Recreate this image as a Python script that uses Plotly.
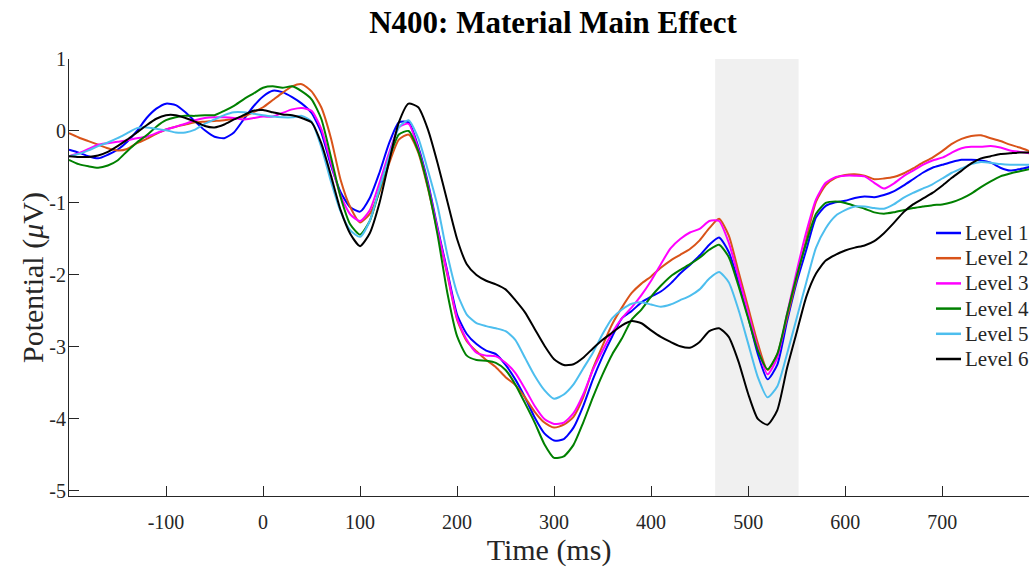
import plotly.graph_objects as go

time_ms = list(range(-200, 800, 10))

level1 = [-0.26, -0.30, -0.35, -0.38, -0.33, -0.26, -0.15, 0.00, 0.18, 0.31,
          0.38, 0.36, 0.26, 0.13, 0.01, -0.08, -0.10, -0.02, 0.16, 0.34,
          0.48, 0.56, 0.54, 0.47, 0.38, 0.25, -0.02, -0.48, -0.85, -1.06,
          -1.12, -0.93, -0.58, -0.17, 0.12, 0.12, -0.22, -0.72, -1.35, -1.95,
          -2.55, -2.82, -2.96, -3.05, -3.10, -3.25, -3.45, -3.70, -3.98, -4.20,
          -4.30, -4.28, -4.12, -3.82, -3.45, -3.13, -2.85, -2.60, -2.50, -2.38,
          -2.30, -2.23, -2.12, -1.98, -1.86, -1.73, -1.58, -1.48, -1.68, -2.10,
          -2.58, -3.10, -3.45, -3.25, -2.65, -2.10, -1.65, -1.20, -1.04, -0.99,
          -0.97, -0.93, -0.91, -0.92, -0.89, -0.84, -0.76, -0.67, -0.58, -0.51,
          -0.47, -0.43, -0.40, -0.40, -0.41, -0.44, -0.51, -0.55, -0.53, -0.50]

level2 = [-0.03, -0.09, -0.14, -0.19, -0.24, -0.27, -0.25, -0.17, -0.11, -0.04,
          0.02, 0.06, 0.09, 0.12, 0.13, 0.14, 0.15, 0.17, 0.20, 0.26,
          0.33, 0.43, 0.53, 0.62, 0.65, 0.55, 0.33, -0.10, -0.68, -1.06,
          -1.27, -1.15, -0.85, -0.45, -0.12, -0.05, -0.30, -0.80, -1.40, -2.00,
          -2.62, -2.92, -3.06, -3.18, -3.28, -3.42, -3.53, -3.70, -3.90, -4.05,
          -4.12, -4.08, -3.97, -3.70, -3.30, -2.98, -2.68, -2.45, -2.25, -2.12,
          -2.02, -1.90, -1.80, -1.72, -1.64, -1.52, -1.35, -1.22, -1.45, -1.95,
          -2.45, -2.95, -3.32, -3.10, -2.60, -2.05, -1.50, -0.98, -0.75, -0.65,
          -0.61, -0.60, -0.62, -0.67, -0.66, -0.64, -0.59, -0.52, -0.44, -0.37,
          -0.28, -0.18, -0.11, -0.07, -0.06, -0.10, -0.14, -0.19, -0.23, -0.28]

level3 = [-0.35, -0.31, -0.25, -0.19, -0.17, -0.15, -0.13, -0.10, -0.08, -0.03,
          0.02, 0.06, 0.10, 0.15, 0.18, 0.19, 0.19, 0.18, 0.16, 0.18,
          0.20, 0.20, 0.25, 0.30, 0.32, 0.28, 0.03, -0.44, -0.90, -1.16,
          -1.25, -1.10, -0.72, -0.30, 0.05, 0.10, -0.25, -0.75, -1.38, -1.98,
          -2.60, -2.90, -3.08, -3.12, -3.13, -3.22, -3.36, -3.58, -3.82, -4.00,
          -4.07, -4.05, -3.92, -3.66, -3.32, -3.05, -2.80, -2.60, -2.45, -2.28,
          -2.08, -1.85, -1.63, -1.50, -1.41, -1.36, -1.25, -1.25, -1.55, -2.02,
          -2.52, -3.02, -3.38, -3.15, -2.55, -1.95, -1.40, -0.95, -0.72, -0.64,
          -0.62, -0.62, -0.63, -0.72, -0.80, -0.73, -0.63, -0.55, -0.47, -0.41,
          -0.37, -0.30, -0.24, -0.22, -0.22, -0.21, -0.23, -0.27, -0.29, -0.31]

level4 = [-0.40, -0.46, -0.49, -0.51, -0.48, -0.41, -0.28, -0.16, -0.06, 0.06,
          0.15, 0.19, 0.21, 0.21, 0.22, 0.22, 0.28, 0.35, 0.44, 0.52,
          0.60, 0.62, 0.60, 0.62, 0.55, 0.44, 0.17, -0.36, -0.92, -1.30,
          -1.44, -1.25, -0.82, -0.38, -0.05, 0.00, -0.28, -0.78, -1.45, -2.25,
          -2.85, -3.12, -3.18, -3.19, -3.22, -3.32, -3.52, -3.78, -4.05, -4.35,
          -4.54, -4.52, -4.36, -4.05, -3.70, -3.38, -3.10, -2.88, -2.62, -2.48,
          -2.30, -2.15, -2.02, -1.93, -1.85, -1.76, -1.65, -1.58, -1.75, -2.15,
          -2.60, -3.05, -3.31, -3.10, -2.55, -2.02, -1.55, -1.15, -1.00, -0.98,
          -1.00, -1.04, -1.08, -1.13, -1.15, -1.13, -1.10, -1.07, -1.05, -1.03,
          -1.02, -0.99, -0.94, -0.87, -0.78, -0.70, -0.63, -0.59, -0.56, -0.53]

level5 = [-0.35, -0.32, -0.27, -0.21, -0.16, -0.10, -0.03, 0.04, 0.05, 0.03,
          0.01, -0.02, -0.02, 0.02, 0.10, 0.16, 0.22, 0.26, 0.26, 0.24,
          0.22, 0.20, 0.19, 0.19, 0.21, 0.13, -0.22, -0.70, -1.12, -1.38,
          -1.47, -1.25, -0.80, -0.35, 0.05, 0.15, -0.10, -0.55, -1.05, -1.72,
          -2.25, -2.55, -2.67, -2.71, -2.74, -2.78, -2.90, -3.15, -3.40, -3.60,
          -3.72, -3.66, -3.52, -3.30, -3.08, -2.82, -2.60, -2.48, -2.40, -2.38,
          -2.41, -2.44, -2.41, -2.35, -2.29, -2.20, -2.05, -1.96, -2.10, -2.48,
          -2.95, -3.42, -3.70, -3.55, -3.10, -2.60, -2.10, -1.62, -1.35, -1.18,
          -1.10, -1.05, -1.05, -1.07, -1.08, -1.02, -0.93, -0.86, -0.80, -0.74,
          -0.66, -0.58, -0.52, -0.46, -0.43, -0.44, -0.46, -0.47, -0.47, -0.47]

level6 = [-0.35, -0.36, -0.36, -0.34, -0.29, -0.21, -0.12, -0.02, 0.08, 0.17,
          0.22, 0.22, 0.18, 0.13, 0.07, 0.05, 0.09, 0.16, 0.22, 0.28,
          0.29, 0.26, 0.23, 0.22, 0.18, 0.12, -0.17, -0.62, -1.10, -1.43,
          -1.60, -1.42, -1.00, -0.42, 0.12, 0.38, 0.33, 0.02, -0.45, -0.98,
          -1.50, -1.85, -2.00, -2.08, -2.13, -2.20, -2.35, -2.52, -2.75, -2.98,
          -3.17, -3.25, -3.24, -3.15, -3.02, -2.90, -2.80, -2.70, -2.64, -2.67,
          -2.77, -2.86, -2.93, -2.99, -3.01, -2.93, -2.78, -2.74, -2.86, -3.20,
          -3.65, -4.00, -4.08, -3.88, -3.30, -2.80, -2.30, -1.98, -1.80, -1.72,
          -1.66, -1.62, -1.59, -1.53, -1.42, -1.28, -1.13, -1.02, -0.94, -0.86,
          -0.76, -0.65, -0.55, -0.45, -0.38, -0.35, -0.32, -0.31, -0.30, -0.30]

series_names = ["Level 1", "Level 2", "Level 3", "Level 4", "Level 5", "Level 6"]
series_values = [level1, level2, level3, level4, level5, level6]
series_colors = ["#0000FF", "#D95319", "#FF00FF", "#008000", "#4DBEEE", "#000000"]

window_ms = [466, 552]
x_ticks = [-100, 0, 100, 200, 300, 400, 500, 600, 700]
y_ticks = [-5, -4, -3, -2, -1, 0, 1]

FONT = "Liberation Serif, Times New Roman, serif"
AX = "#262626"

W, H = 1029, 567
ML, MR, MT, MB = 69, 0, 59, 71
PW, PH = W - ML - MR, H - MT - MB


def px_to_paper(px, py):
    """window pixel -> paper coordinates"""
    return (px - ML) / PW, (H - MB - py) / PH


fig = go.Figure()
for name, vals, col in zip(series_names, series_values, series_colors):
    fig.add_trace(go.Scatter(
        x=time_ms, y=vals, mode="lines", name=name,
        line=dict(color=col, width=2, shape="spline", smoothing=0.6),
    ))

fig.add_shape(type="rect", xref="x", yref="paper",
              x0=window_ms[0], x1=window_ms[1], y0=0, y1=1,
              fillcolor="#f0f0f0", line=dict(width=0), layer="below")

# legend (MATLAB-style, no box): short line sample + label
row0, row_gap = 233, 25.2
for i, (name, col) in enumerate(zip(series_names, series_colors)):
    yc = row0 + i * row_gap
    x0p, yp = px_to_paper(936, yc)
    x1p, _ = px_to_paper(961, yc)
    fig.add_shape(type="line", xref="paper", yref="paper",
                  x0=x0p, x1=x1p, y0=yp, y1=yp,
                  line=dict(color=col, width=2.5))
    xtp, _ = px_to_paper(963, yc)
    fig.add_annotation(xref="paper", yref="paper", x=xtp, y=yp,
                       xanchor="left", yanchor="middle", showarrow=False,
                       text=name, font=dict(family=FONT, size=21, color=AX))

# y-axis title placed like MATLAB's (close to tick labels)
ytx, yty = px_to_paper(33, 278)
fig.add_annotation(xref="paper", yref="paper", x=ytx, y=yty,
                   xanchor="center", yanchor="middle", showarrow=False,
                   textangle=-90, text="Potential (<i>μ</i>V)",
                   font=dict(family=FONT, size=30, color=AX))

tx, _ = px_to_paper(553, 0)
fig.update_layout(
    width=W, height=H,
    margin=dict(l=ML, r=MR, t=MT, b=MB, autoexpand=False),
    paper_bgcolor="white", plot_bgcolor="white",
    font=dict(family=FONT, color=AX, size=20),
    title=dict(text="<b>N400: Material Main Effect</b>",
               x=tx, xref="paper", xanchor="center",
               y=1 - 22 / H, yanchor="middle",
               font=dict(family=FONT, size=31, color="black")),
    showlegend=False,
)

fig.update_xaxes(
    range=[-200, 789.5], tickvals=x_ticks, ticktext=[str(v) for v in x_ticks],
    automargin=False,
    showline=True, linecolor=AX, linewidth=1,
    ticks="inside", ticklen=10, tickcolor=AX, tickwidth=1,
    showgrid=False, zeroline=False,
    tickfont=dict(family=FONT, size=20, color=AX),
    ticklabelstandoff=8,
    title=dict(text="Time (ms)", font=dict(family=FONT, size=30, color=AX), standoff=6),
)
fig.update_yaxes(
    range=[-5.07, 1.0], tickvals=y_ticks, ticktext=[str(v) for v in y_ticks],
    automargin=False,
    showline=True, linecolor=AX, linewidth=1,
    ticks="inside", ticklen=10, tickcolor=AX, tickwidth=1,
    showgrid=False, zeroline=False,
    tickfont=dict(family=FONT, size=20, color=AX),
    ticklabelstandoff=-2,
)

fig.write_html(
    "out.html",
    config={"displayModeBar": False},
    post_script="document.body.style.margin='0';document.body.style.overflow='hidden';",
)
